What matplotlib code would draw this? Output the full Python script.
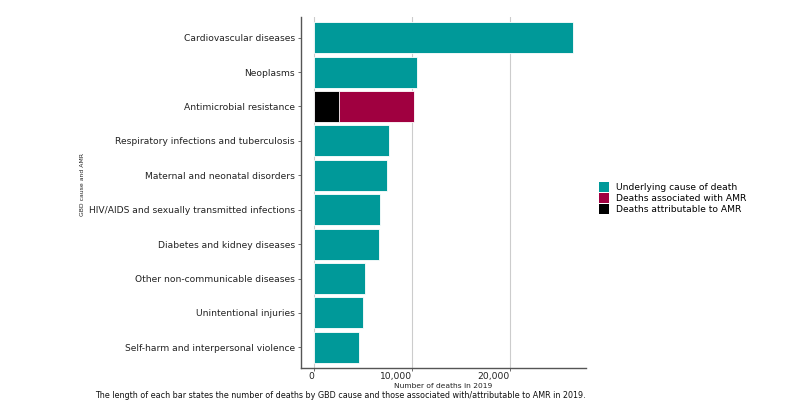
import matplotlib.pyplot as plt
from matplotlib.patches import Patch
from matplotlib.transforms import blended_transform_factory, ScaledTranslation

# data (number of deaths in 2019)
causes = ["Cardiovascular diseases", "Neoplasms", "Antimicrobial resistance",
          "Respiratory infections and tuberculosis", "Maternal and neonatal disorders",
          "HIV/AIDS and sexually transmitted infections", "Diabetes and kidney diseases",
          "Other non-communicable diseases", "Unintentional injuries",
          "Self-harm and interpersonal violence"]
underlying = [26460, 10540, 0, 7650, 7450, 6700, 6680, 5170, 4970, 4590]
amr_associated = 10240
amr_attributable = 2550
xticks = [0, 10000, 20000]
xtick_labels = ["0", "10,000", "20,000"]

teal = "#009999"
crimson = "#A00040"

fig = plt.figure(figsize=(7.88, 4.05), dpi=100)
ax = fig.add_axes([301 / 788, 1 - 368 / 405, (586 - 301) / 788, (368 - 17) / 405])

ypos = list(range(len(causes)))[::-1]
amr_i = causes.index("Antimicrobial resistance")
for i, (y, v) in enumerate(zip(ypos, underlying)):
    if i == amr_i:
        ax.barh(y, amr_associated, height=0.9, color=crimson, edgecolor="white", linewidth=0.6, zorder=2)
        ax.barh(y, amr_attributable, height=0.9, color="black", edgecolor="white", linewidth=0.6, zorder=3)
    else:
        ax.barh(y, v, height=0.9, color=teal, edgecolor="white", linewidth=0.6, zorder=2)

xmax = max(underlying)
ax.set_xlim(-0.05 * xmax, 1.05 * xmax)
ax.set_ylim(-0.6, len(causes) - 0.4)
ax.set_yticks(ypos)
ax.set_yticklabels(causes, fontsize=6.6, color="#222222")
ax.set_xticks(xticks)
ax.set_xticklabels([])
ax.tick_params(axis="both", length=2.5, width=0.6, color="#555555", pad=2)

# x tick labels sit to the left of their tick, as in the reference
trans = blended_transform_factory(ax.transData, ax.transAxes) + ScaledTranslation(0, -2.6 / 72, fig.dpi_scale_trans)
for xv, lab in zip(xticks, xtick_labels):
    ax.text(xv, 0, lab, transform=trans, ha="right", va="top", fontsize=6.6,
            color="#222222", clip_on=False)

ax.grid(axis="x", color="#cccccc", linewidth=0.8, zorder=0)
ax.set_axisbelow(True)
for s in ["top", "right"]:
    ax.spines[s].set_visible(False)
for s in ["left", "bottom"]:
    ax.spines[s].set_color("#555555")
    ax.spines[s].set_linewidth(1.0)

fig.text(443.5 / 788, 1 - 385.5 / 405, "Number of deaths in 2019", fontsize=5.4,
         ha="center", va="center", color="#222222")
fig.text(82.5 / 788, 1 - 184.5 / 405, "GBD cause and AMR", fontsize=4.4,
         rotation=90, ha="center", va="center", color="#222222")
fig.text(586 / 788, 1 - 395.5 / 405,
         "The length of each bar states the number of deaths by GBD cause and those associated with/attributable to AMR in 2019.",
         fontsize=5.78, ha="right", va="center", color="#111111")

handles = [Patch(facecolor=teal, label="Underlying cause of death"),
           Patch(facecolor=crimson, label="Deaths associated with AMR"),
           Patch(facecolor="black", label="Deaths attributable to AMR")]
fig.legend(handles=handles, loc="center left", bbox_to_anchor=(597 / 788, 1 - 198 / 405),
           frameon=False, fontsize=6.6, handlelength=1.1, handleheight=1.3,
           labelspacing=0.12, handletextpad=0.8, borderaxespad=0, borderpad=0.2)

fig.savefig("out.png", dpi=100)
